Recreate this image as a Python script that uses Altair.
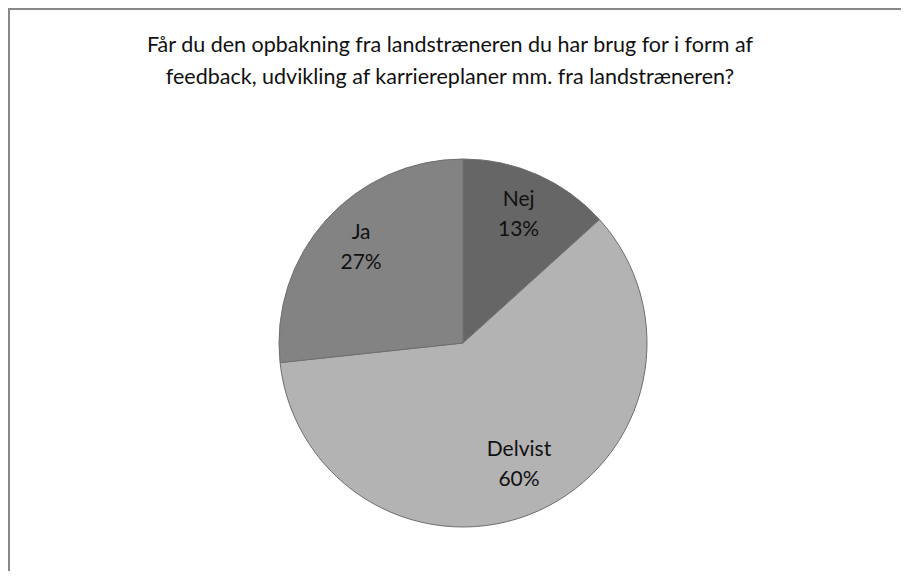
import altair as alt
import pandas as pd

categories = ["Nej", "Delvist", "Ja"]
shares = [13.3, 60.0, 26.7]
labels = ["13%", "60%", "27%"]
colors = ["#666666", "#b3b3b3", "#838383"]
title_lines = [
    "Får du den opbakning fra landstræneren du har brug for i form af",
    "feedback, udvikling af karriereplaner mm. fra landstræneren?",
]

df = pd.DataFrame({
    "category": categories,
    "share": shares,
    "label": [f"{c}\n{p}" for c, p in zip(categories, labels)],
    "order": list(range(len(categories))),
})

FONT = "Lato, sans-serif"
CX, CY, R = 455, 335, 184
W, H = 893, 563
BORDER = "#888888"

base = alt.Chart(df).encode(
    theta=alt.Theta("share:Q", stack=True),
    order=alt.Order("order:Q"),
)

pie = base.mark_arc(x=CX, y=CY, outerRadius=R, stroke="#6e6e6e", strokeWidth=1).encode(
    color=alt.Color("category:N", scale=alt.Scale(domain=categories, range=colors), legend=None),
)

text = base.mark_text(
    x=CX, y=CY, radius=137, dy=-18, fontSize=21, font=FONT, color="#111111",
    lineBreak="\n", lineHeight=30, baseline="middle", align="center",
).encode(text="label:N")

top_border = alt.Chart(df).mark_rule(color=BORDER, strokeWidth=2).encode(
    x=alt.value(0), x2=alt.value(W), y=alt.value(1)
)
left_border = alt.Chart(df).mark_rule(color=BORDER, strokeWidth=2).encode(
    x=alt.value(1), y=alt.value(0), y2=alt.value(H)
)

chart = alt.layer(pie, text, top_border, left_border).properties(
    width=W,
    height=H,
    padding=0,
    autosize=alt.AutoSizeParams(type="none"),
    view=alt.ViewBackground(stroke=None, fill="white"),
    title=alt.Title(
        text=title_lines, fontSize=21.5, font=FONT, fontWeight="normal",
        color="#111111", anchor="middle", lineHeight=32, dy=81, dx=442 - W / 2, offset=0,
    ),
)

chart.save("out.html", embed_options={"renderer": "svg", "actions": False})
